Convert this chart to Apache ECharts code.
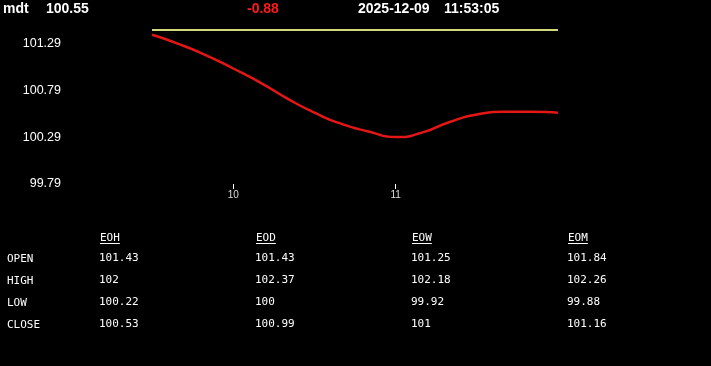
<!DOCTYPE html>
<html><head><meta charset="utf-8">
<script src="https://cdn.jsdelivr.net/npm/echarts@6/dist/echarts.min.js"></script>
<style>html,body{margin:0;padding:0;background:#000;}#c{width:711px;height:366px;}</style>
</head><body><div id="c"></div>
<script>
// ---- data ----
const symbol = 'mdt';
const lastPrice = '100.55';
const change = '-0.88';
const dateText = '2025-12-09';
const timeText = '11:53:05';

const times = ['09:30','09:40','09:50','10:00','10:10','10:20','10:30','10:40','10:50','11:00','11:10','11:20','11:30','11:40','11:50','12:00'];
const priceValues = [101.38,101.28,101.16,101.02,100.87,100.70,100.55,100.43,100.35,100.29,100.34,100.45,100.53,100.56,100.56,100.55];
const openValue = 101.43;
const yTickValues = [99.79,100.29,100.79,101.29];
const xTickTimes = ['10:00','11:00'];

const tableColumns = ['EOH','EOD','EOW','EOM'];
const tableRows = ['OPEN','HIGH','LOW','CLOSE'];
const eohValues = ['101.43','102','100.22','100.53'];
const eodValues = ['101.43','102.37','100','100.99'];
const eowValues = ['101.25','102.18','99.92','101'];
const eomValues = ['101.84','102.26','99.88','101.16'];

// ---- helpers ----
const toMin = t => { const [h,m] = t.split(':').map(Number); return h*60+m; };
const priceData = times.map((t,i)=>[toMin(t), priceValues[i]]);
const openData = times.map(t=>[toMin(t), openValue]);

const chart = echarts.init(document.getElementById('c'));
const hdrFont = 'bold 14px "Liberation Sans", Arial, sans-serif';
const monoFont = '11px "DejaVu Sans Mono", monospace';

const graphics = [];
graphics.push({type:'text', left:3, top:2, style:{text:symbol, font:hdrFont, fill:'#fff'}});
graphics.push({type:'text', left:46, top:2, style:{text:lastPrice, font:hdrFont, fill:'#fff'}});
graphics.push({type:'text', left:247, top:2, style:{text:change, font:hdrFont, fill:'#ff1a1a'}});
graphics.push({type:'text', left:358, top:2, style:{text:dateText, font:hdrFont, fill:'#fff'}});
graphics.push({type:'text', left:444, top:2, style:{text:timeText, font:hdrFont, fill:'#fff'}});

const colX = [99, 255, 411, 567];
const rowY = [258, 280, 302, 324];
const colVals = [eohValues, eodValues, eowValues, eomValues];
tableColumns.forEach((c,i)=>{
  graphics.push({type:'text', x:colX[i]+1, y:238, style:{text:c, font:monoFont, fill:'#fff', verticalAlign:'middle'}});
  graphics.push({type:'line', shape:{x1:colX[i]+1, y1:243.5, x2:colX[i]+1+c.length*6.62, y2:243.5}, style:{stroke:'#fff', lineWidth:1}});
  colVals[i].forEach((v,j)=>{
    graphics.push({type:'text', x:colX[i], y:rowY[j], style:{text:v, font:monoFont, fill:'#fff', verticalAlign:'middle'}});
  });
});
tableRows.forEach((r,j)=>{
  graphics.push({type:'text', x:7, y:rowY[j]+1.5, style:{text:r, font:monoFont, fill:'#fff', verticalAlign:'middle'}});
});

chart.setOption({
  backgroundColor:'#000',
  animation:false,
  grid:{left:152, right:153, top:30, bottom:182},
  xAxis:{
    type:'value', min:toMin(times[0]), max:toMin(times[times.length-1]),
    axisLine:{show:false}, splitLine:{show:false},
    axisTick:{show:true, length:5, lineStyle:{color:'#fff'}, customValues:xTickTimes.map(toMin)},
    axisLabel:{color:'#ddd', fontSize:10, margin:6, fontFamily:'"Liberation Sans", Arial, sans-serif',
      customValues:xTickTimes.map(toMin), formatter:v=>String(Math.floor(v/60))}
  },
  yAxis:{
    type:'value', min:yTickValues[0], max:openValue,
    axisLine:{show:false}, axisTick:{show:false}, splitLine:{show:false},
    axisLabel:{color:'#fff', fontSize:12.5, margin:91, fontFamily:'"Liberation Sans", Arial, sans-serif',
      customValues:yTickValues, formatter:v=>v.toFixed(2)}
  },
  series:[
    {type:'line', data:openData, showSymbol:false, lineStyle:{color:'#d2d67c', width:2}, z:2},
    {type:'line', data:priceData, showSymbol:false, smooth:0.6, lineStyle:{color:'#e51616', width:2.5}, z:3}
  ],
  graphic:graphics
});
</script>
</body></html>
